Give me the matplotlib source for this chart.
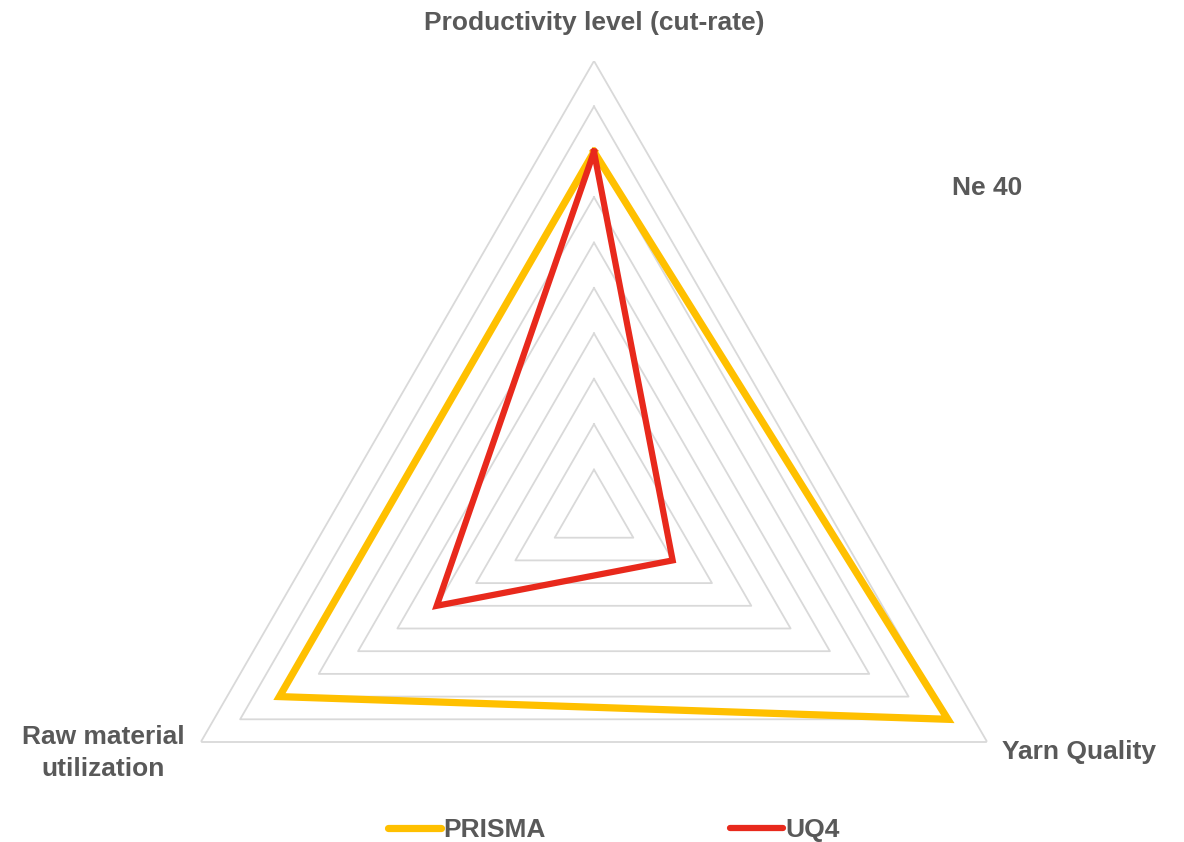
import numpy as np
import matplotlib
matplotlib.use("Agg")
import matplotlib.pyplot as plt
from matplotlib import font_manager

categories = ["Productivity level (cut-rate)", "Yarn Quality", "Raw material\nutilization"]
prisma = [8, 9, 8]
uq4 = [8, 2, 4]
levels = list(range(1, 11))
series_names = ["PRISMA", "UQ4"]
colors = ["#FFC000", "#E8291C"]

names = {f.name for f in font_manager.fontManager.ttflist}
fam = ["Liberation Sans Narrow", "Liberation Sans", "DejaVu Sans"] if "Liberation Sans Narrow" in names else ["Liberation Sans", "DejaVu Sans"]
plt.rcParams["font.family"] = fam
txtcol = "#595959"

W, H = 1184, 842
fig = plt.figure(figsize=(W / 100, H / 100), dpi=100)
cx, cy, R = 594, 515, 454
ax = fig.add_axes([(cx - R) / W, (H - cy - R) / H, 2 * R / W, 2 * R / H], projection="polar")
ax.set_theta_offset(np.pi / 2)
ax.set_theta_direction(-1)
ax.set_ylim(0, 10)
ax.axis("off")

n = len(categories)
angles = [2 * np.pi * i / n for i in range(n)]
ang_c = angles + angles[:1]
for lv in levels:
    ax.plot(ang_c, [lv] * (n + 1), color="#D9D9D9", lw=1.3, zorder=1)

lines = []
for vals, name, c, lw in zip([prisma, uq4], series_names, colors, [5.2, 4.5]):
    v = list(vals) + [vals[0]]
    ln, = ax.plot(ang_c, v, color=c, lw=lw, label=name, solid_joinstyle="miter", zorder=3)
    lines.append(ln)

def ftxt(x, y, s, **kw):
    fig.text(x / W, 1 - y / H, s, color=txtcol, fontweight="bold", fontsize=19,
             ha="center", va="center", **kw)

ftxt(594, 23, categories[0])
ftxt(1079, 752, categories[1])
ftxt(103, 753, categories[2], linespacing=1.4)
ftxt(987, 188, "Ne 40")

leg = fig.legend(handles=lines, loc="center", bbox_to_anchor=(614 / W, 1 - 830 / H), ncol=2,
                 frameon=False, handlelength=2.0, handletextpad=0.1,
                 columnspacing=7.0, labelcolor=txtcol, prop={"weight": "bold", "size": 19})
for l in leg.get_lines():
    l.set_solid_capstyle("round")

fig.savefig("out.png", dpi=100)
